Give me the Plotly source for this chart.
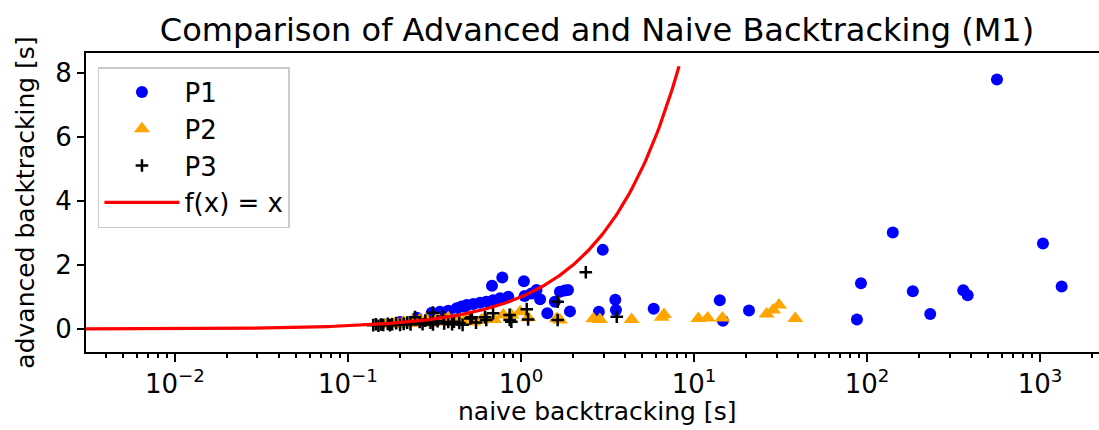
import numpy as np
import plotly.graph_objects as go

# ---- data ----
p1_x = [564, 141, 1040, 1334, 92.3, 184, 360, 382, 87.5, 232,
        2.97, 1.79, 1.87, 1.92, 2.82, 3.51, 3.54, 5.85, 14.1, 14.7, 20.8,
        0.78, 0.68, 1.04, 1.68, 1.23, 1.29, 1.57, 1.42, 1.05, 0.845, 0.757,
        0.69, 0.63, 0.58, 0.53, 0.486, 0.454, 1.15, 0.305, 0.34, 0.38, 0.425,
        0.475, 0.2, 0.25]
p1_y = [7.79, 3.01, 2.67, 1.33, 1.43, 1.18, 1.21, 1.05, 0.30, 0.47,
        2.47, 1.20, 1.22, 0.55, 0.54, 0.91, 0.59, 0.63, 0.90, 0.26, 0.58,
        1.61, 1.35, 1.49, 1.16, 1.22, 0.93, 0.85, 0.49, 1.03, 1.01, 0.96,
        0.90, 0.85, 0.82, 0.78, 0.75, 0.70, 1.11, 0.51, 0.54, 0.57, 0.65,
        0.70, 0.22, 0.35]

p2_x = [0.165, 0.18, 0.19, 0.2, 0.21, 0.22, 0.235, 0.25, 0.26, 0.27, 0.285,
        0.3, 0.31, 0.33, 0.34, 0.36, 0.38, 0.4, 0.42, 0.44, 0.475, 0.5, 0.53,
        0.59, 0.62, 0.7, 0.79, 0.88, 0.99, 1.1, 1.61, 1.68,
        2.62, 2.86, 4.36, 6.51, 6.71, 10.6, 12.0, 14.6, 26.3, 28.7, 31.0, 38.5]
p2_y = [0.13, 0.16, 0.20, 0.14, 0.22, 0.18, 0.25, 0.17, 0.28, 0.21, 0.30,
        0.19, 0.26, 0.33, 0.22, 0.28, 0.35, 0.20, 0.30, 0.25, 0.28, 0.33, 0.22,
        0.28, 0.35, 0.30, 0.44, 0.44, 0.54, 0.35, 0.33, 0.28,
        0.32, 0.30, 0.30, 0.37, 0.45, 0.33, 0.34, 0.34, 0.47, 0.59, 0.75, 0.33]

p3_x = [0.14, 0.145, 0.15, 0.155, 0.16, 0.17, 0.175, 0.18, 0.19, 0.2, 0.21,
        0.22, 0.23, 0.244, 0.26, 0.27, 0.28, 0.3, 0.31, 0.31, 0.33, 0.355,
        0.36, 0.38, 0.4, 0.41, 0.44, 0.46, 0.52, 0.51, 0.55, 0.62, 0.63, 0.69,
        0.86, 0.86, 0.88, 1.08, 1.1, 1.63, 1.63, 2.37, 3.58]
p3_y = [0.12, 0.15, 0.10, 0.14, 0.13, 0.16, 0.12, 0.15, 0.18, 0.13, 0.16,
        0.20, 0.14, 0.37, 0.22, 0.15, 0.26, 0.20, 0.14, 0.51, 0.24, 0.38,
        0.17, 0.22, 0.15, 0.23, 0.19, 0.13, 0.37, 0.33, 0.20, 0.37, 0.28, 0.49,
        0.44, 0.28, 0.23, 0.62, 0.30, 0.85, 0.28, 1.77, 0.38]

line_x_min = 0.00306
line_x_max = 8.2

x_range_log = [-2.514, 3.341]
y_range = [-0.718, 8.615]

x_tick_vals = [0.01, 0.1, 1, 10, 100, 1000]
x_tick_text = ["10<sup>\u22122</sup>", "10<sup>\u22121</sup>", "10<sup>0</sup>",
               "10<sup>1</sup>", "10<sup>2</sup>", "10<sup>3</sup>"]
y_tick_vals = [0, 2, 4, 6, 8]

title_text = "Comparison of Advanced and Naive Backtracking (M1)"
x_label = "naive backtracking [s]"
y_label = "advanced backtracking [s]"

FONT = "DejaVu Sans"
FS = 26
LFS = 25

line_x = np.logspace(np.log10(line_x_min), np.log10(line_x_max), 300)

fig = go.Figure()
fig.add_trace(go.Scatter(
    x=p1_x, y=p1_y, mode="markers", name="P1",
    marker=dict(symbol="circle", size=12, color="blue", line=dict(width=0)),
    legendrank=1, legendgroup="a"))
fig.add_trace(go.Scatter(
    x=p2_x, y=p2_y, mode="markers", name="P2",
    marker=dict(symbol="triangle-up", size=14, color="orange", line=dict(width=0)),
    legendrank=2, legendgroup="b"))
fig.add_trace(go.Scatter(
    x=p3_x, y=p3_y, mode="markers", name="P3",
    marker=dict(symbol="cross-thin", size=9, color="black",
                line=dict(width=2.5, color="black")),
    legendrank=3, legendgroup="c"))
fig.add_trace(go.Scatter(
    x=line_x, y=line_x, mode="lines", name="f(x) = x",
    line=dict(color="red", width=3.2), legendrank=4, legendgroup="d"))

fig.update_layout(
    width=1099, height=430,
    margin=dict(l=86, r=0, t=53, b=78),
    paper_bgcolor="white", plot_bgcolor="white",
    font=dict(family=FONT, size=FS, color="black"),
    title=dict(text=title_text, x=0.5044, xref="paper", xanchor="center",
               y=0.93, yref="container", yanchor="middle",
               font=dict(size=32, family=FONT)),
    showlegend=True,
    legend=dict(x=0.0118, y=0.953, xanchor="left", yanchor="top",
                bgcolor="white", bordercolor="#cccccc", borderwidth=1.5,
                font=dict(size=FS, family=FONT), tracegroupgap=5,
                itemwidth=75, traceorder="normal"),
    xaxis=dict(type="log", range=x_range_log, tickvals=x_tick_vals,
               ticktext=x_tick_text,
               showgrid=False, zeroline=False, showline=True, linecolor="black",
               linewidth=2, mirror=True, ticks="outside", ticklen=8, tickwidth=2,
               tickcolor="black", tickfont=dict(size=FS),
               minor=dict(ticks="outside", ticklen=4, tickwidth=1.5, tickcolor="black",
                          dtick="D1", showgrid=False)),
    yaxis=dict(range=y_range, tickvals=y_tick_vals, showgrid=False,
               zeroline=False, showline=True, linecolor="black", linewidth=2,
               mirror=False, ticks="outside", ticklen=7, tickwidth=2,
               tickcolor="black", tickfont=dict(size=FS),
               title=dict(text=y_label, font=dict(size=LFS), standoff=14)),
    annotations=[dict(text=x_label, xref="paper", yref="paper",
                      x=0.5044, y=-0.20, xanchor="center", yanchor="middle",
                      showarrow=False, font=dict(size=LFS, family=FONT))],
)

fig.write_html("out.html")
